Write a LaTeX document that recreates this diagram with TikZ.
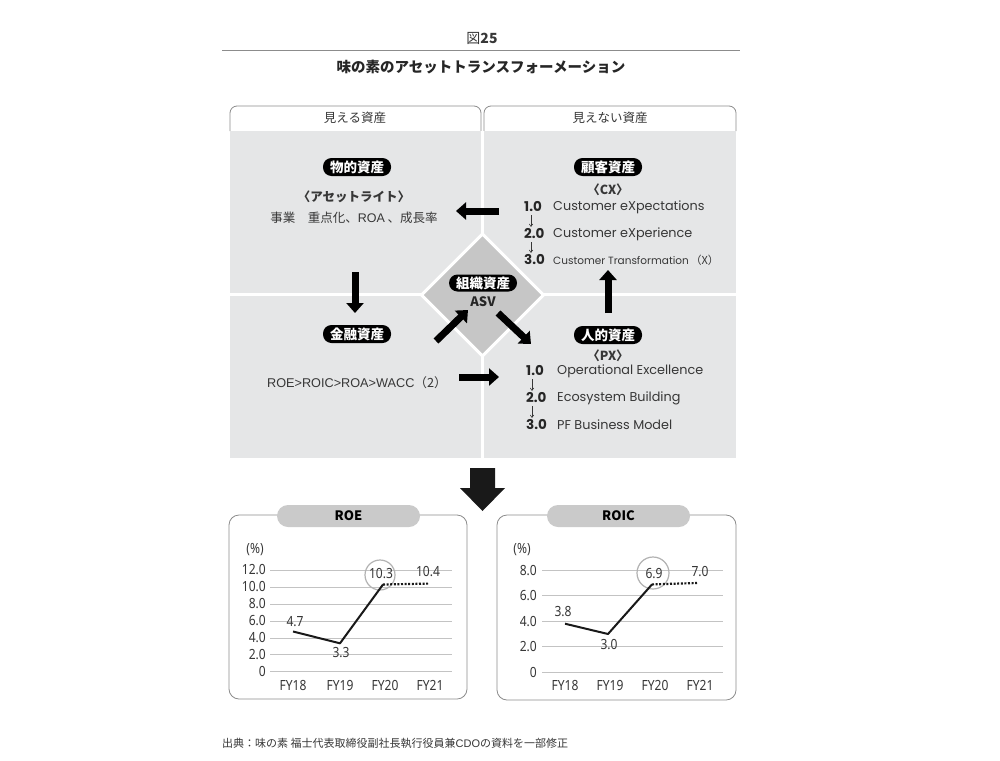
\documentclass[tikz,border=0pt]{standalone}
\usepackage{fontspec}
\setmainfont{Noto Sans CJK JP}
\newfontfamily\lat{Poppins}
\newfontfamily\hel{Liberation Sans}
\newfontfamily\cond{Noto Sans}[FakeStretch=0.86]
\usetikzlibrary{arrows.meta}
\definecolor{panelgray}{RGB}{229,230,231}
\definecolor{diamgray}{RGB}{198,198,198}
\definecolor{tabgray}{RGB}{202,202,202}
\definecolor{gridgray}{RGB}{195,195,195}
\definecolor{txt}{RGB}{55,55,55}
\definecolor{boxline}{RGB}{140,140,140}
\newcommand{\fs}[1]{\fontsize{#1}{#1}\selectfont}
\tikzset{
  pill/.style={fill=black, text=white, rounded corners=8.5pt, minimum height=18pt, inner xsep=7pt, inner ysep=0pt, font=\bfseries\fs{13.5}},
  body/.style={text=txt, inner sep=0pt, font=\fs{12.5}},
  num/.style={text=black!85, inner sep=0pt, anchor=west, font=\lat\bfseries\fs{13.5}},
  eng/.style={text=txt, inner sep=0pt, anchor=west, font=\lat\fs{12.8}},
  fat/.style={line width=7pt, -{Triangle[length=10pt,width=17pt]}, black},
  thin/.style={draw=txt, line width=0.6pt, -{Straight Barb[length=2.5pt,width=3.5pt]}},
  tabline/.style={draw=boxline, line width=0.8pt, rounded corners=7pt},
  chartbox/.style={draw=boxline, line width=0.8pt, rounded corners=10pt},
  ctab/.style={fill=tabgray, rounded corners=11pt, minimum width=143pt, minimum height=22pt, inner sep=0pt, font=\bfseries\fs{13}},
  clab/.style={text=txt, inner sep=0pt, font=\cond\fs{14}},
  grid/.style={draw=gridgray, line width=0.8pt},
  dataline/.style={draw=black!90, line width=2pt, line join=round},
  dotline/.style={draw=black!90, line width=2.2pt, dash pattern=on 2pt off 1.6pt},
  ring/.style={draw=black!30, line width=1.2pt}
}
\begin{document}
\begin{tikzpicture}[x=1pt,y=-1pt]
\useasboundingbox[fill=white] (0,0) rectangle (1000,760);

% heading
\node[text=txt, inner sep=0pt, font=\fs{14}] (fig) at (482,38) {図\textbf{25}};
\coordinate (rl) at (222,50);
\coordinate (rr) at (740,50);
\draw[draw=boxline, line width=0.8pt] (rl) -- (rr);
\node[text=black!85, inner sep=0pt, font=\bfseries\fs{14.5}] (title) at (481,67) {味の素のアセットトランスフォーメーション};

% header tabs
\draw[tabline] (230,131) -- (230,106) -- (481,106) -- (481,131);
\draw[tabline] (484,131) -- (484,106) -- (736,106) -- (736,131);
\node[text=txt, inner sep=0pt, font=\fs{12.5}] (hl) at (355,118) {見える資産};
\node[text=txt, inner sep=0pt, font=\fs{12.5}] (hr) at (610,118) {見えない資産};

% panel
\fill[panelgray] (230,131) rectangle (736,458);
\draw[white, line width=3pt] (482.5,131) -- (482.5,458);
\draw[white, line width=3pt] (230,294.5) -- (736,294.5);
\draw[white, line width=3pt, fill=diamgray] (482.5,234) -- (543.5,295) -- (482.5,356) -- (421.5,295) -- cycle;

% top-left
\node[pill] (butsu) at (357,167) {物的資産};
\node[body, font=\bfseries\fs{12.5}] (alite) at (354,197) {〈アセットライト〉};
\node[body] (jigyo) at (354,218) {事業　重点化、{\hel ROA} 、成長率};

% center
\node[pill, minimum height=17pt] (soshiki) at (483,283) {組織資産};
\node[body, font=\bfseries\fs{13}, text=black!85] (asv) at (483,302) {ASV};

% top-right
\node[pill] (kokyaku) at (608,167) {顧客資産};
\node[body, font=\bfseries\fs{12.5}] (cx) at (608,190) {〈CX〉};
\node[num] (c1n) at (524,207) {1.0};
\node[eng] (c1) at (553,207) {Customer eXpectations};
\node[num] (c2n) at (524,234) {2.0};
\node[eng] (c2) at (553,234) {Customer eXperience};
\node[num] (c3n) at (524,260) {3.0};
\node[eng, font=\lat\fs{10.5}] (c3) at (553,260) {Customer Transformation\,{\rmfamily\fs{11}（X）}};
\coordinate (ca1) at (531,215);
\coordinate (cb1) at (531,227);
\coordinate (ca2) at (531,242);
\coordinate (cb2) at (531,253);
\draw[thin] (ca1) -- (cb1);
\draw[thin] (ca2) -- (cb2);

% bottom-right
\node[pill] (jinteki) at (608,335) {人的資産};
\node[body, font=\bfseries\fs{12.5}] (px) at (608,356) {〈PX〉};
\node[num] (p1n) at (526,371) {1.0};
\node[eng] (p1) at (557,371) {Operational Excellence};
\node[num] (p2n) at (526,398) {2.0};
\node[eng] (p2) at (557,398) {Ecosystem Building};
\node[num] (p3n) at (526,425) {3.0};
\node[eng] (p3) at (557,425) {PF Business Model};
\coordinate (pa1) at (532,379);
\coordinate (pb1) at (532,391);
\coordinate (pa2) at (532,406);
\coordinate (pb2) at (532,418);
\draw[thin] (pa1) -- (pb1);
\draw[thin] (pa2) -- (pb2);

% bottom-left
\node[pill] (kinyu) at (357,334) {金融資産};
\node[body, font=\hel\fs{12.7}] (roe) at (357,383) {ROE>ROIC>ROA>WACC{\rmfamily（2）}};

% arrows
\coordinate (a1s) at (499,211); \coordinate (a1e) at (456,211);
\coordinate (a2s) at (355,272); \coordinate (a2e) at (355,313);
\coordinate (a3s) at (436,341); \coordinate (a3e) at (468,310);
\coordinate (a4s) at (498,313); \coordinate (a4e) at (531,344);
\coordinate (a5s) at (459,377); \coordinate (a5e) at (499,377);
\coordinate (a6s) at (608,313); \coordinate (a6e) at (608,270);
\draw[fat] (a1s) -- (a1e);
\draw[fat] (a2s) -- (a2e);
\draw[fat] (a3s) -- (a3e);
\draw[fat] (a4s) -- (a4e);
\draw[fat] (a5s) -- (a5e);
\draw[fat] (a6s) -- (a6e);

% big down arrow
\fill[black!90] (470,468) -- (495,468) -- (495,488) -- (505,488) -- (482.5,511) -- (460,488) -- (470,488) -- cycle;

% ROE chart
\draw[chartbox] (229,515) rectangle (467,699);
\node[ctab] (roetab) at (348.5,516) {ROE};
\node[clab] (pl) at (255,550) {(\%)};
\foreach \v/\y in {12.0/570,10.0/587,8.0/604,6.0/621,4.0/638,2.0/654.5,0/671}{
  \draw[grid] (270,\y) -- (452,\y);
  \node[clab, anchor=east] at (266,\y) {\v};
}
\foreach \n/\x in {FY18/293,FY19/340,FY20/385,FY21/430}{
  \node[clab] at (\x,685) {\n};
}
\draw[ring] (380,575) circle (15);
\coordinate (r1) at (293,631.5);
\coordinate (r2) at (340,643.3);
\coordinate (r3) at (383,584.5);
\coordinate (r4) at (428,583.6);
\draw[dataline] (r1) -- (r2) -- (r3);
\draw[dotline] (r3) -- (r4);
\node[clab] (v1) at (295,622) {4.7};
\node[clab] (v2) at (341,653) {3.3};
\node[clab] (v3) at (381,574) {10.3};
\node[clab] (v4) at (428,572) {10.4};

% ROIC chart
\draw[chartbox] (497,515) rectangle (736,700);
\node[ctab] (roictab) at (618.5,516) {ROIC};
\node[clab] (pr) at (522,550) {(\%)};
\foreach \v/\y in {8.0/570.4,6.0/595.8,4.0/621.2,2.0/646.6,0/672}{
  \draw[grid] (542,\y) -- (723,\y);
  \node[clab, anchor=east] at (537,\y) {\v};
}
\foreach \n/\x in {FY18/565,FY19/610,FY20/655,FY21/700}{
  \node[clab] at (\x,685) {\n};
}
\draw[ring] (653,573) circle (16);
\coordinate (s1) at (565,623.7);
\coordinate (s2) at (608,634);
\coordinate (s3) at (652,584.4);
\coordinate (s4) at (697,583);
\draw[dataline] (s1) -- (s2) -- (s3);
\draw[dotline] (s3) -- (s4);
\node[clab] (w1) at (563,612) {3.8};
\node[clab] (w2) at (609,645) {3.0};
\node[clab] (w3) at (654,574) {6.9};
\node[clab] (w4) at (700,572) {7.0};

% footer
\node[text=txt, inner sep=0pt, anchor=west, font=\fs{11}] (src) at (222,743) {出典：味の素 福士代表取締役副社長執行役員兼{\hel CDO}の資料を一部修正};
\end{tikzpicture}
\end{document}
